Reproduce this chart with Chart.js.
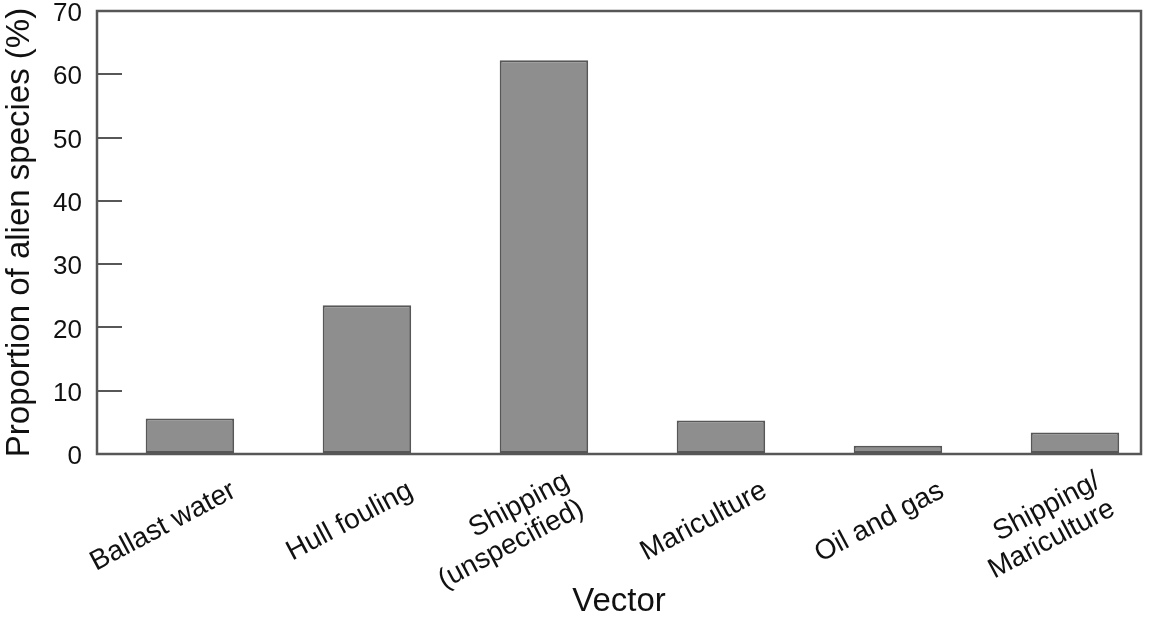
<!DOCTYPE html>
<html>
<head>
<meta charset="utf-8">
<script src="https://cdn.jsdelivr.net/npm/chart.js@4"></script>
<style>
    html, body { margin: 0; padding: 0; background: #fff; }
    #wrap { width: 1150px; height: 622px; }
</style>
</head>
<body>
<div id="wrap"><canvas id="chart" width="1150" height="622"></canvas></div>
<script>
// Data
const categories = [
    'Ballast water',
    'Hull fouling',
    ['Shipping', '(unspecified)'],
    'Mariculture',
    'Oil and gas',
    ['Shipping/', 'Mariculture']
];
const proportions = [5.6, 23.5, 62.2, 5.3, 1.3, 3.4];
const yTicks = [0, 10, 20, 30, 40, 50, 60, 70];

const AXIS_COLOR = '#575757';
const FONT = 'Liberation Sans, Arial, Helvetica, sans-serif';

const isTwoLine = i => Array.isArray(categories[i]);

// Draws the closed frame round the plot area
const frame = {
    id: 'frame',
    afterDraw(chart) {
        const { ctx, chartArea: a } = chart;
        ctx.save();
        ctx.strokeStyle = AXIS_COLOR;
        ctx.lineWidth = 2.5;
        ctx.strokeRect(a.left, a.top, a.right - a.left, a.bottom - a.top);
        ctx.restore();
    }
};

new Chart(document.getElementById('chart'), {
    type: 'bar',
    data: {
        datasets: [{
            data: proportions.map((v, i) => ({ x: i, y: v })),
            backgroundColor: '#8e8e8e',
            borderColor: AXIS_COLOR,
            borderWidth: 2,
            borderSkipped: false,
            barPercentage: 0.5,
            categoryPercentage: 1
        }]
    },
    options: {
        responsive: false,
        animation: false,
        layout: { padding: { top: 11, right: 9, left: 0, bottom: 0 } },
        plugins: { legend: { display: false }, tooltip: { enabled: false } },
        scales: {
            x: {
                type: 'linear',
                offset: false,
                min: -0.525,
                max: 5.373,
                afterBuildTicks: s => { s.ticks = categories.map((c, i) => ({ value: i })); },
                afterFit: s => { s.height = 168; },
                grid: { display: false, drawTicks: false },
                border: { display: false },
                ticks: {
                    // two-line labels sit up and to the left of the one-line ones
                    // in the figure: trailing spaces + a per-tick line height do that
                    callback: (v, i) => isTwoLine(i) ? categories[i].map(s => s + '   ') : categories[i],
                    minRotation: 28,
                    maxRotation: 28,
                    labelOffset: 44,
                    padding: 1,
                    color: '#111',
                    font: ctx => ({
                        family: FONT,
                        size: 28,
                        lineHeight: isTwoLine(ctx.index) ? '31px' : '77px'
                    })
                },
                title: {
                    display: true,
                    text: 'Vector',
                    color: '#111',
                    font: { family: FONT, size: 33 },
                    padding: 0
                }
            },
            y: {
                min: 0,
                max: 70,
                afterBuildTicks: s => { s.ticks = yTicks.map(v => ({ value: v })); },
                afterFit: s => {
                    s.width = 97;
                    s.paddingTop = 0;
                    s.paddingBottom = 0;
                },
                grid: {
                    display: true,
                    drawOnChartArea: false,
                    drawTicks: true,
                    tickLength: -25,
                    color: AXIS_COLOR,
                    lineWidth: 2
                },
                border: { display: false },
                ticks: {
                    padding: 40,
                    labelOffset: 3,
                    color: '#111',
                    font: { family: FONT, size: 26 }
                },
                title: {
                    display: true,
                    text: 'Proportion of alien species (%)',
                    color: '#111',
                    font: { family: FONT, size: 33 },
                    padding: 0
                }
            }
        }
    },
    plugins: [frame]
});
</script>
</body>
</html>
